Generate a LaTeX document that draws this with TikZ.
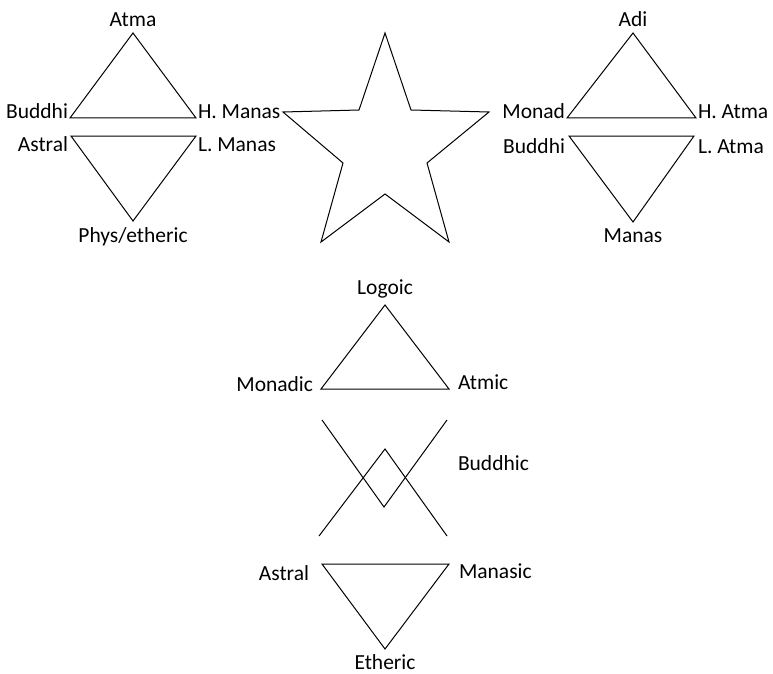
\documentclass[tikz,border=0pt]{standalone}
\usepackage{fontspec}
\setmainfont{Carlito}
\begin{document}
\begin{tikzpicture}[x=1pt,y=-1pt,line width=1pt,
  lbl/.style={font=\fontsize{21.5}{25}\selectfont,inner sep=0pt,outer sep=0pt}]
\useasboundingbox (0,0) rectangle (773,674);
% ---------- top-left group ----------
\coordinate (la) at (133,33);
\coordinate (lb) at (70,118);
\coordinate (lc) at (196,118);
\coordinate (ld) at (71,136);
\coordinate (le) at (196,136);
\coordinate (lf) at (133,221);
\draw (la) -- (lb) -- (lc) -- cycle;
\draw (ld) -- (le) -- (lf) -- cycle;
\node[lbl,anchor=base] (atma) at (133,27) {Atma};
\node[lbl,anchor=base east] (buddhiA) at (68,118) {Buddhi};
\node[lbl,anchor=base west] (hmanas) at (198,118) {H. Manas};
\node[lbl,anchor=base east] (astralA) at (68,151) {Astral};
\node[lbl,anchor=base west] (lmanas) at (198,151) {L. Manas};
\node[lbl,anchor=base] (phys) at (133,242) {Phys/etheric};
% ---------- star ----------
\coordinate (s1) at (385,33);
\coordinate (s2) at (411,110);
\coordinate (s3) at (489,112);
\coordinate (s4) at (427,163);
\coordinate (s5) at (449,242);
\coordinate (s6) at (385,194);
\coordinate (s7) at (321,242);
\coordinate (s8) at (343,163);
\coordinate (s9) at (283,112);
\coordinate (s10) at (359,110);
\draw (s1) -- (s2) -- (s3) -- (s4) -- (s5) -- (s6) -- (s7) -- (s8) -- (s9) -- (s10) -- cycle;
% ---------- top-right group ----------
\coordinate (ra) at (633,33);
\coordinate (rb) at (567,118);
\coordinate (rc) at (696,118);
\coordinate (rd) at (569,136);
\coordinate (re) at (694,136);
\coordinate (rf) at (633,222);
\draw (ra) -- (rb) -- (rc) -- cycle;
\draw (rd) -- (re) -- (rf) -- cycle;
\node[lbl,anchor=base] (adi) at (633,27) {Adi};
\node[lbl,anchor=base east] (monad) at (565,118) {Monad};
\node[lbl,anchor=base west] (hatma) at (698,118) {H. Atma};
\node[lbl,anchor=base east] (buddhiB) at (565,153) {Buddhi};
\node[lbl,anchor=base west] (latma) at (698,153) {L. Atma};
\node[lbl,anchor=base] (manas) at (633,242) {Manas};
% ---------- bottom group ----------
\coordinate (ba) at (385,305);
\coordinate (bb) at (321,389);
\coordinate (bc) at (449,389);
\draw (ba) -- (bb) -- (bc) -- cycle;
\coordinate (ua) at (319,536);
\coordinate (ub) at (385,449);
\coordinate (uc) at (447,536);
\draw (ua) -- (ub) -- (uc);
\coordinate (va) at (322,420);
\coordinate (vb) at (384,507);
\coordinate (vc) at (447,420);
\draw (va) -- (vb) -- (vc);
\coordinate (da) at (322,564);
\coordinate (db) at (449,564);
\coordinate (dc) at (385,649);
\draw (da) -- (db) -- (dc) -- cycle;
\node[lbl,anchor=base] (logoic) at (385,294) {Logoic};
\node[lbl,anchor=base east] (monadic) at (313,391) {Monadic};
\node[lbl,anchor=base west] (atmic) at (458,389) {Atmic};
\node[lbl,anchor=base west] (buddhic) at (458,470) {Buddhic};
\node[lbl,anchor=base east] (astralB) at (309,580) {Astral};
\node[lbl,anchor=base west] (manasic) at (459,578) {Manasic};
\node[lbl,anchor=base] (etheric) at (385,669) {Etheric};
\end{tikzpicture}
\end{document}
